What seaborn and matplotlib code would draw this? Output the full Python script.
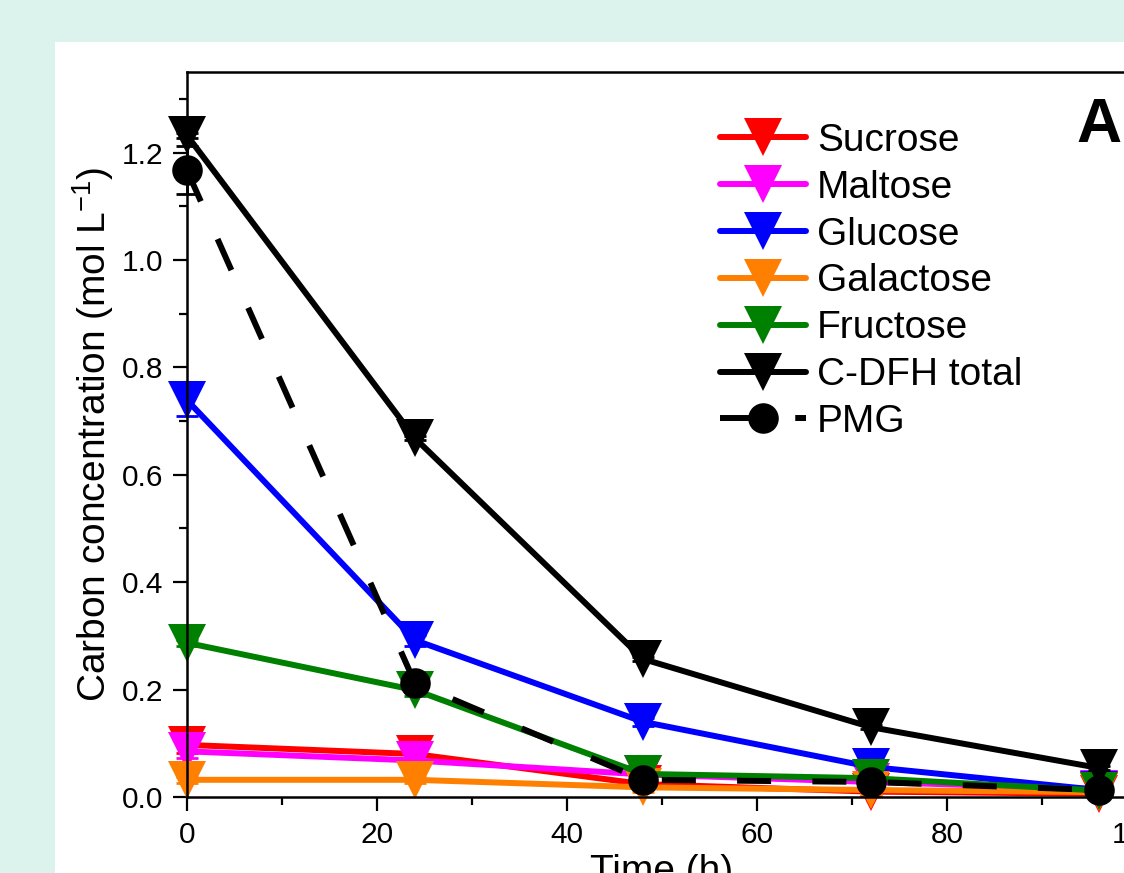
import numpy as np
import matplotlib
matplotlib.use('Agg')
import matplotlib.pyplot as plt
from matplotlib.patches import Rectangle
from matplotlib.ticker import MultipleLocator, FormatStrFormatter
import pandas as pd
import seaborn as sns

# 数据
time_h = [0, 24, 48, 72, 96]
sucrose = [0.097, 0.080, 0.024, 0.010, 0.006]
maltose = [0.085, 0.068, 0.042, 0.028, 0.015]
glucose = [0.739, 0.292, 0.140, 0.056, 0.013]
galactose = [0.032, 0.032, 0.018, 0.013, 0.009]
fructose = [0.287, 0.199, 0.043, 0.035, 0.012]
cdfh_total = [1.232, 0.668, 0.257, 0.130, 0.054]
pmg = [1.167, 0.212, 0.032, 0.028, 0.013]

sucrose_err = [0.015, 0.025, 0.010, 0.008, 0.006]
maltose_err = [0.012, 0.012, 0.010, 0.008, 0.006]
glucose_err = [0.030, 0.010, 0.008, 0.006, 0.005]
galactose_err = [0.005, 0.005, 0.008, 0.008, 0.006]
fructose_err = [0.006, 0.010, 0.006, 0.006, 0.005]
cdfh_err = [0.004, 0.004, 0.004, 0.004, 0.004]
pmg_err = [0.045, 0.010, 0.010, 0.010, 0.010]

series_names = ['Sucrose', 'Maltose', 'Glucose', 'Galactose', 'Fructose', 'C-DFH total', 'PMG']
series_values = [sucrose, maltose, glucose, galactose, fructose, cdfh_total, pmg]
series_errs = [sucrose_err, maltose_err, glucose_err, galactose_err, fructose_err, cdfh_err, pmg_err]
series_colors = ['#ff0000', '#ff00ff', '#0000ff', '#ff8000', '#008000', '#000000', '#000000']
series_markers = ['v', 'v', 'v', 'v', 'v', 'v', 'o']

sns.set_style('white')
plt.rcParams['font.family'] = ['Liberation Sans', 'DejaVu Sans']
for k in ['text.color', 'axes.labelcolor', 'xtick.color', 'ytick.color']:
    plt.rcParams[k] = 'black'

fig = plt.figure(figsize=(11.24, 8.73), dpi=100)
fig.patch.set_facecolor('#dcf3ed')
# 白色面板
fig.add_artist(Rectangle((55 / 1124, 0), 1.0, 1 - 42 / 873, transform=fig.transFigure,
                         facecolor='white', edgecolor='none', zorder=0))

ax = fig.add_axes([187 / 1124, 76 / 873, (1137 - 187) / 1124, (797 - 72) / 873])
ax.set_facecolor('white')

for name, vals, errs, c, m in zip(series_names, series_values, series_errs, series_colors, series_markers):
    df = pd.DataFrame({'t': time_h, 'c': vals})
    ls = (0, (5.7, 6.9)) if name == 'PMG' else '-'
    ms = 22 if m == 'o' else 27
    sns.lineplot(data=df, x='t', y='c', ax=ax, color=c, marker=m, markersize=ms,
                 markeredgewidth=0, linewidth=4.3, linestyle=ls, label=name, clip_on=False)
    ax.errorbar(time_h, vals, yerr=errs, fmt='none', ecolor=c, elinewidth=2, capsize=8,
                capthick=2, clip_on=False)

ax.set_xlim(0, 100)
ax.set_ylim(0, 1.35)
ax.xaxis.set_major_locator(MultipleLocator(20))
ax.xaxis.set_minor_locator(MultipleLocator(10))
ax.yaxis.set_major_locator(MultipleLocator(0.2))
ax.yaxis.set_minor_locator(MultipleLocator(0.1))
ax.yaxis.set_major_formatter(FormatStrFormatter('%.1f'))
ax.tick_params(which='major', direction='out', length=10, width=1.6, labelsize=21.5, pad=7,
               bottom=True, left=True)
ax.tick_params(which='minor', direction='out', length=5.5, width=1.6, bottom=True, left=True)
for s in ax.spines.values():
    s.set_linewidth(1.8)
    s.set_color('black')

ax.set_xlabel('Time (h)', fontsize=28, labelpad=4)
ax.set_ylabel('Carbon concentration (mol L$^{\\mathregular{-1}}$)', fontsize=28, labelpad=4)

leg = ax.legend(loc='upper left', bbox_to_anchor=(0.561, 0.93), frameon=False, fontsize=28,
                handlelength=2.2, handletextpad=0.3, labelspacing=0.28, borderaxespad=0,
                borderpad=0)

fig.text(1076 / 1124, 1 - 125 / 873, 'A', fontsize=45, fontweight='bold', va='center', ha='left')

fig.savefig('out.png', dpi=100, facecolor=fig.get_facecolor())
